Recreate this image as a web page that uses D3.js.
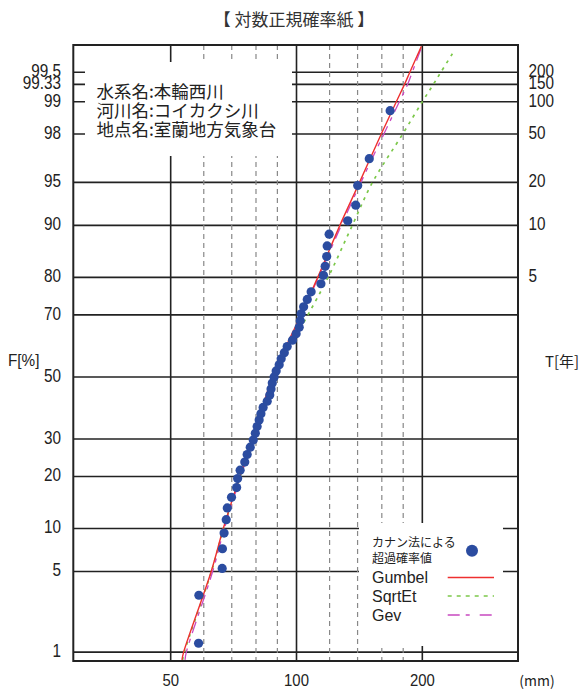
<!DOCTYPE html>
<html><head><meta charset="utf-8">
<script src="https://cdn.jsdelivr.net/npm/d3@7"></script>
<style>body{margin:0;background:#fff}svg{display:block}</style>
</head><body>
<svg id="chart" width="585" height="689"></svg>
<script>
// ---------- data ----------
const titleText = "【 対数正規確率紙 】";
const infoLines = ["水系名:本輪西川", "河川名:コイカクシ川", "地点名:室蘭地方気象台"];
const probLines = [1, 5, 10, 20, 30, 50, 70, 80, 90, 95, 98, 99, 99.33, 99.5];
const probLabels = ["1", "5", "10", "20", "30", "50", "70", "80", "90", "95", "98", "99", "99.33", "99.5"];
const returnF = [80, 90, 95, 98, 99, 99.333, 99.5];
const returnLabels = ["5", "10", "20", "50", "100", "150", "200"];
const xMajorTicks = [50, 100, 200];
const xMajorLabels = ["50", "100", "200"];
const xMinorTicks = [60, 70, 80, 90, 120, 140, 160, 180];

// observed annual maxima (mm), sorted, and Cunnane plotting positions (%)
const rainfall = [58.3, 58.4, 66.4, 66.5, 67.1, 67.9, 68.3, 69.9, 71.9, 72.3,
  73.3, 75.2, 76.2, 77.5, 78.8, 79.7, 80.5, 81.4, 82.2, 83.2,
  85.1, 86.3, 86.9, 87.5, 88.4, 89.4, 90.9, 91.9, 93.5, 95.0,
  97.8, 99.8, 101.5, 102.1, 102.6, 104.0, 106.1, 108.4, 114.4, 116.0,
  117.1, 118.1, 118.4, 119.7, 132.6, 138.6, 140.1, 149.3, 167.5];
const plotPos = [1.22, 3.25, 5.28, 7.32, 9.35, 11.38, 13.41, 15.45, 17.48, 19.51,
  21.54, 23.58, 25.61, 27.64, 29.67, 31.71, 33.74, 35.77, 37.80, 39.84,
  41.87, 43.90, 45.93, 47.97, 50.00, 52.03, 54.07, 56.10, 58.13, 60.16,
  62.20, 64.23, 66.26, 68.29, 70.33, 72.36, 74.39, 76.42, 78.46, 80.49,
  82.52, 84.55, 86.59, 88.62, 90.65, 92.68, 94.72, 96.75, 98.78];

// fitted distributions (F %, value mm)
const curveF = [0.838, 1, 5, 10, 20, 30, 50, 60, 70, 80, 90, 95, 98, 99, 99.33, 99.5, 99.74];
const gumbel = [53.2, 53.7, 62.5, 66.8, 73.2, 78.5, 87.6, 94.3, 102.5, 112.4, 127.0, 141.5, 159.5, 173.3, 181.3, 186.7, 199.0];
const gev    = [54.1, 54.5, 63.0, 67.2, 73.5, 78.8, 87.8, 94.5, 102.7, 112.8, 128.0, 142.6, 161.8, 176.2, 184.4, 189.2, 199.5];
const sqrtEtF = [0.838, 1, 5, 10, 20, 30, 50, 60, 70, 80, 90, 95, 98, 99, 99.33, 99.5, 99.70];
const sqrtEt  = [53.4, 53.9, 62.6, 66.9, 73.3, 78.7, 88.5, 96.5, 106.5, 119.0, 136.0, 152.0, 179.5, 200.0, 212.5, 221.5, 237.5];

const legendNames = ["Gumbel", "SqrtEt", "Gev"];
const legendColors = ["#ee3030", "#7cc84a", "#c848c0"];
const legendDash = [null, "4,5", "12,6,4,10"];

// ---------- helpers ----------
function probit(p) {
  const a = [-3.969683028665376e+01, 2.209460984245205e+02, -2.759285104469687e+02, 1.383577518672690e+02, -3.066479806614716e+01, 2.506628277459239e+00];
  const b = [-5.447609879822406e+01, 1.615858368580409e+02, -1.556989798598866e+02, 6.680131188771972e+01, -1.328068155288572e+01];
  const c = [-7.784894002430293e-03, -3.223964580411365e-01, -2.400758277161838e+00, -2.549732539343734e+00, 4.374664141464968e+00, 2.938163982698783e+00];
  const d = [7.784695709041462e-03, 3.224671290700398e-01, 2.445134137142996e+00, 3.754408661907416e+00];
  const pl = 0.02425, ph = 1 - pl;
  let q, r;
  if (p < pl) { q = Math.sqrt(-2 * Math.log(p)); return (((((c[0]*q+c[1])*q+c[2])*q+c[3])*q+c[4])*q+c[5]) / ((((d[0]*q+d[1])*q+d[2])*q+d[3])*q+1); }
  if (p <= ph) { q = p - 0.5; r = q*q; return (((((a[0]*r+a[1])*r+a[2])*r+a[3])*r+a[4])*r+a[5])*q / (((((b[0]*r+b[1])*r+b[2])*r+b[3])*r+b[4])*r+1); }
  q = Math.sqrt(-2 * Math.log(1 - p));
  return -(((((c[0]*q+c[1])*q+c[2])*q+c[3])*q+c[4])*q+c[5]) / ((((d[0]*q+d[1])*q+d[2])*q+d[3])*q+1);
}

// ---------- layout ----------
const L = 73.3, R = 518, T = 45, B = 661;
const svg = d3.select("#chart");
const x = d3.scaleLog().domain([29.24, 338.8]).range([L, R]);
const zScale = d3.scaleLinear().domain([-2.401, 2.806]).range([B, T]);
const y = F => zScale(probit(F / 100));

const labelFont = "'Liberation Sans', Arial, sans-serif";
const cjkFont = "'Noto Sans CJK JP', 'Noto Sans', sans-serif";

// grid: horizontal probability lines
svg.append("g").selectAll("line").data(probLines).join("line")
  .attr("x1", L).attr("x2", R).attr("y1", d => y(d)).attr("y2", d => y(d))
  .attr("stroke", "#222").attr("stroke-width", 1.6);

// minor dashed verticals
svg.append("g").selectAll("line").data(xMinorTicks).join("line")
  .attr("x1", d => x(d)).attr("x2", d => x(d)).attr("y1", T).attr("y2", B)
  .attr("stroke", "#888").attr("stroke-width", 1.2).attr("stroke-dasharray", "5,4");

// major verticals
svg.append("g").selectAll("line").data(xMajorTicks).join("line")
  .attr("x1", d => x(d)).attr("x2", d => x(d)).attr("y1", T).attr("y2", B)
  .attr("stroke", "#222").attr("stroke-width", 1.6);

// white boxes (annotation + legend)
svg.append("rect").attr("x", 85).attr("y", 62).attr("width", 207).attr("height", 94).attr("fill", "#fff");
svg.append("rect").attr("x", 359).attr("y", 523).attr("width", 144).attr("height", 123).attr("fill", "#fff");

// frame
svg.append("rect").attr("x", L).attr("y", T).attr("width", R - L).attr("height", B - T)
  .attr("fill", "none").attr("stroke", "#222").attr("stroke-width", 2);

// title
svg.append("text").attr("x", 294).attr("y", 18).attr("text-anchor", "middle")
  .attr("dominant-baseline", "central").attr("font-family", cjkFont).attr("font-size", 17)
  .attr("fill", "#333").text(titleText);

// info text
svg.append("g").selectAll("text").data(infoLines).join("text")
  .attr("x", 96.5).attr("y", (d, i) => 90 + i * 19.2).attr("dominant-baseline", "central")
  .attr("font-family", cjkFont).attr("font-size", 17.5).attr("fill", "#222").text(d => d);

// left probability labels
svg.append("g").selectAll("text").data(probLines).join("text")
  .attr("transform", d => `translate(61,${y(d) - 1}) scale(0.85,1)`)
  .attr("text-anchor", "end").attr("dominant-baseline", "central")
  .attr("font-family", labelFont).attr("font-size", 18).attr("fill", "#222")
  .text((d, i) => probLabels[i]);

// right return period labels
svg.append("g").selectAll("text").data(returnF).join("text")
  .attr("transform", d => `translate(528.5,${y(d) - 1}) scale(0.85,1)`)
  .attr("text-anchor", "start").attr("dominant-baseline", "central")
  .attr("font-family", labelFont).attr("font-size", 18).attr("fill", "#222")
  .text((d, i) => returnLabels[i]);

// x labels
svg.append("g").selectAll("text").data(xMajorTicks).join("text")
  .attr("transform", d => `translate(${x(d)},680) scale(0.93,1)`)
  .attr("text-anchor", "middle").attr("dominant-baseline", "central")
  .attr("font-family", labelFont).attr("font-size", 16).attr("fill", "#222")
  .text((d, i) => xMajorLabels[i]);
svg.append("text").attr("x", 537).attr("y", 680).attr("text-anchor", "middle")
  .attr("dominant-baseline", "central").attr("font-family", cjkFont).attr("font-size", 14)
  .attr("fill", "#222").text("(mm)");

// axis titles
svg.append("text").attr("transform", "translate(8,360) scale(0.9,1)").attr("dominant-baseline", "central")
  .attr("font-family", labelFont).attr("font-size", 17).attr("fill", "#222").text("F[%]");
svg.append("text").attr("x", 545).attr("y", 360).attr("dominant-baseline", "central")
  .attr("font-family", cjkFont).attr("font-size", 15).attr("fill", "#222").text("T[年]");

// clip for curves
svg.append("clipPath").attr("id", "plotclip").append("rect")
  .attr("x", L).attr("y", T).attr("width", R - L).attr("height", B - T);

const line = d3.line().curve(d3.curveCatmullRom.alpha(0.5));
function drawCurve(F, V, color, dash, w) {
  svg.append("path").attr("clip-path", "url(#plotclip)")
    .attr("d", line(F.map((f, i) => [x(V[i]), y(f)])))
    .attr("fill", "none").attr("stroke", color).attr("stroke-width", w)
    .attr("stroke-dasharray", dash);
}
drawCurve(sqrtEtF, sqrtEt, legendColors[1], "3,5", 1.7);
drawCurve(curveF, gev, legendColors[2], "12,6,4,6", 1.3);
drawCurve(curveF, gumbel, legendColors[0], null, 1.4);

// observed points
svg.append("g").selectAll("circle").data(rainfall).join("circle")
  .attr("cx", d => x(d)).attr("cy", (d, i) => y(plotPos[i])).attr("r", 4.6)
  .attr("fill", "#2b4ca0");

// legend
svg.append("text").attr("x", 372).attr("y", 541).attr("dominant-baseline", "central")
  .attr("font-family", cjkFont).attr("font-size", 12).attr("fill", "#222").text("カナン法による");
svg.append("text").attr("x", 372).attr("y", 557.5).attr("dominant-baseline", "central")
  .attr("font-family", cjkFont).attr("font-size", 12).attr("fill", "#222").text("超過確率値");
svg.append("circle").attr("cx", 472).attr("cy", 550.7).attr("r", 6).attr("fill", "#2b4ca0");

const legY = [577.5, 596, 615];
legendNames.forEach((n, i) => {
  svg.append("text").attr("x", 372).attr("y", legY[i]).attr("dominant-baseline", "central")
    .attr("font-family", labelFont).attr("font-size", 16).attr("fill", "#222").text(n);
  svg.append("line").attr("x1", 447.7).attr("x2", 494).attr("y1", legY[i]).attr("y2", legY[i])
    .attr("stroke", legendColors[i]).attr("stroke-width", 1.6)
    .attr("stroke-dasharray", legendDash[i]);
});
</script>
</body></html>
